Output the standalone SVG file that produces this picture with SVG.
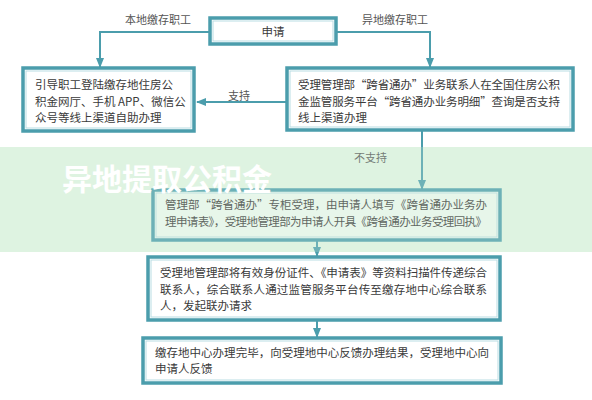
<svg xmlns="http://www.w3.org/2000/svg" width="592" height="400" viewBox="0 0 592 400">
<defs>
<style>
.box{fill:#ffffff;stroke:#4b9dac;stroke-width:3.5}
.inner{fill:none;stroke:#b9dde3;stroke-width:1}
.t{font-family:"Noto Sans CJK SC","Noto Sans",sans-serif;font-size:11.5px;fill:#3a3a3a}
.lbl{font-family:"Noto Sans CJK SC","Noto Sans",sans-serif;font-size:11px;fill:#555}
.ln{fill:none;stroke:#4b9dac;stroke-width:2}
.wm{font-family:"Noto Sans CJK SC","Noto Sans",sans-serif;font-size:30px;font-weight:bold;fill:#ffffff}
</style>
<marker id="ah" viewBox="0 0 10 10" refX="9" refY="5" markerWidth="5" markerHeight="5" orient="auto">
<path d="M0,1 L10,5 L0,9 z" fill="#4b9dac"/>
</marker>
</defs>
<rect width="592" height="400" fill="#ffffff"/>
<rect id="band" x="0" y="147" width="592" height="105" fill="#e2f4e5"/>
<g id="connectors">
<polyline class="ln" points="210,32 100,32 100,67" marker-end="url(#ah)"/>
<polyline class="ln" points="336,32 430,32 430,67" marker-end="url(#ah)"/>
<line class="ln" x1="286" y1="102" x2="197" y2="102" marker-end="url(#ah)"/>
<line class="ln" x1="422" y1="131" x2="422" y2="189" marker-end="url(#ah)"/>
<line class="ln" x1="317" y1="240" x2="317" y2="256" marker-end="url(#ah)"/>
<line class="ln" x1="317" y1="320" x2="317" y2="337" marker-end="url(#ah)"/>
<text class="lbl" x="125" y="24">本地缴存职工</text>
<text class="lbl" x="362" y="24">异地缴存职工</text>
<text class="lbl" x="228" y="100">支持</text>
<text class="lbl" x="354" y="162">不支持</text>
</g>
<g id="n-apply">
<rect class="box" x="210" y="18" width="126" height="26"/>
<rect class="inner" x="213" y="21" width="120" height="20"/>
<text class="t" x="273" y="36" text-anchor="middle">申请</text>
</g>
<g id="n-local">
<rect class="box" x="23" y="68" width="171" height="63"/>
<rect class="inner" x="26" y="71" width="165" height="57"/>
<text class="t" x="35" y="89">引导职工登陆缴存地住房公</text>
<text class="t" x="35" y="106">积金网厅、手机 APP、微信公</text>
<text class="t" x="35" y="122">众号等线上渠道自助办理</text>
</g>
<g id="n-query">
<rect class="box" x="287" y="68" width="286" height="62"/>
<rect class="inner" x="290" y="71" width="280" height="56"/>
<text class="t" x="298" y="89" textLength="262">受理管理部“跨省通办”业务联系人在全国住房公积</text>
<text class="t" x="298" y="106" textLength="262">金监管服务平台“跨省通办业务明细”查询是否支持</text>
<text class="t" x="298" y="122">线上渠道办理</text>
</g>
<g id="n-counter">
<rect class="box" x="153" y="190" width="347" height="50" style="fill:#eef8f0"/>
<rect class="inner" x="156" y="193" width="341" height="44"/>
<text class="t" x="165" y="209" textLength="322">管理部“跨省通办”专柜受理，由申请人填写《跨省通办业务办</text>
<text class="t" x="165" y="226" textLength="322">理申请表》，受理地管理部为申请人开具《跨省通办业务受理回执》</text>
</g>
<g id="n-transfer">
<rect class="box" x="148" y="257" width="352" height="63"/>
<rect class="inner" x="151" y="260" width="346" height="57"/>
<text class="t" x="160" y="277" textLength="327">受理地管理部将有效身份证件、《申请表》等资料扫描件传递综合</text>
<text class="t" x="160" y="294" textLength="327">联系人，综合联系人通过监管服务平台传至缴存地中心综合联系</text>
<text class="t" x="160" y="310">人，发起联办请求</text>
</g>
<g id="n-feedback">
<rect class="box" x="143" y="338" width="358" height="45"/>
<rect class="inner" x="146" y="341" width="352" height="39"/>
<text class="t" x="155" y="357" textLength="334">缴存地中心办理完毕，向受理地中心反馈办理结果，受理地中心向</text>
<text class="t" x="155" y="373">申请人反馈</text>
</g>
<g id="watermark">
<rect x="0" y="147" width="592" height="105" fill="#d3efd9" fill-opacity="0.25"/>
<text class="wm" x="62" y="190">异地提取公积金</text>
</g>
</svg>
